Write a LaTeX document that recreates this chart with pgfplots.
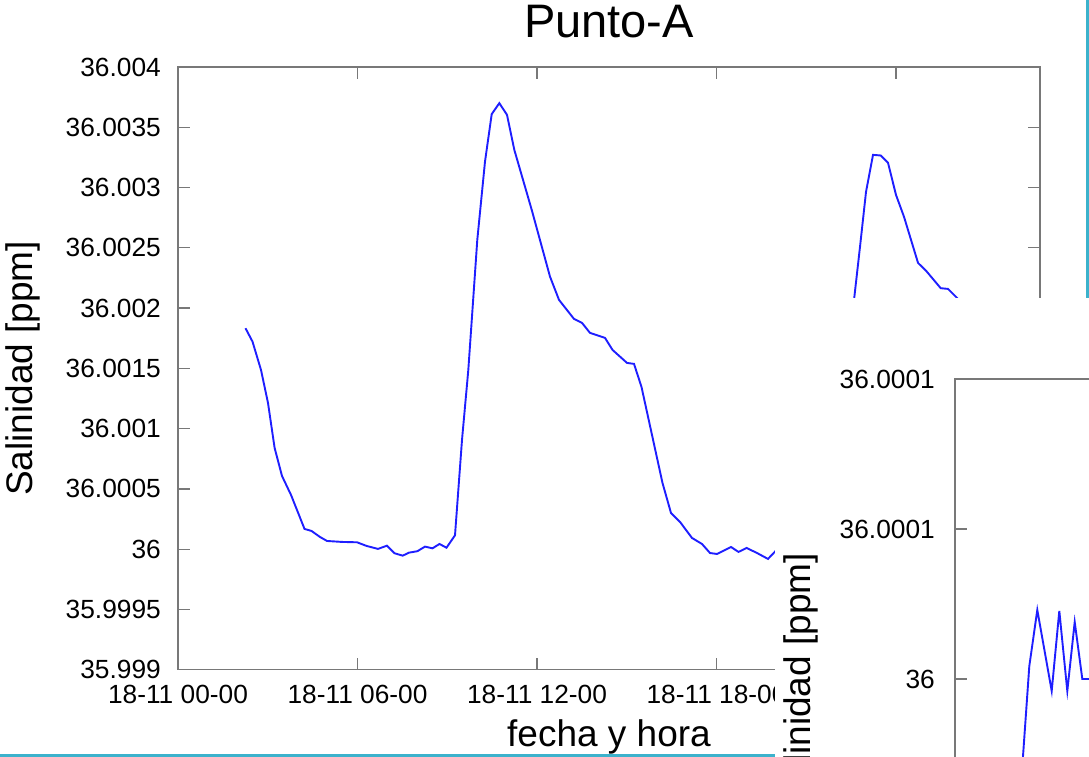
\documentclass[border=0pt]{standalone}
\usepackage{fontspec}
\setmainfont{Liberation Sans}
\usepackage{pgfplots}
\pgfplotsset{compat=1.18}
\usepackage{pgfplotstable}
\definecolor{curve}{RGB}{30,30,255}
\definecolor{frame}{RGB}{120,120,120}
\definecolor{winedge}{RGB}{60,178,204}

% Punto-A: h = hours since 18-11 00-00, v = (salinity - 36) in units of 0.001 ppm
\pgfplotstableread{
h v
2.256 1.833
2.490 1.722
2.774 1.487
3.008 1.213
3.229 0.840
3.476 0.607
3.777 0.450
4.228 0.168
4.462 0.151
4.746 0.101
4.980 0.068
5.481 0.060
5.983 0.057
6.300 0.027
6.684 0.002
6.985 0.029
7.239 -0.034
7.510 -0.054
7.721 -0.029
8.001 -0.017
8.255 0.021
8.506 0.007
8.740 0.043
8.974 0.012
9.258 0.115
9.492 0.906
9.703 1.487
10.003 2.566
10.261 3.216
10.485 3.609
10.739 3.700
10.996 3.603
11.240 3.313
11.822 2.815
12.433 2.261
12.734 2.068
13.235 1.910
13.503 1.877
13.770 1.794
14.271 1.753
14.522 1.653
15.007 1.545
15.241 1.537
15.491 1.346
16.193 0.549
16.477 0.300
16.778 0.226
17.179 0.093
17.513 0.043
17.781 -0.032
18.015 -0.040
18.483 0.018
18.733 -0.023
19.004 0.010
19.352 -0.032
19.719 -0.081
19.973 -0.015
20.29 0.03
20.79 0.08
21.29 0.16
21.79 0.41
22.29 1.07
22.594 2.068
22.794 2.508
22.995 2.964
23.229 3.271
23.486 3.266
23.730 3.205
23.997 2.939
24.265 2.757
24.733 2.375
25.024 2.303
25.491 2.165
25.735 2.159
26.070 2.076
26.64 1.82
27.31 1.07
27.81 0.57
28.48 0.24
}\puntoA

% second window: x = position index, v = (salinity - 36) in units of 0.00001 ppm
\pgfplotstableread{
x v
55 -8.0
61.5 -5.67
68.3 -2.43
74.3 0.43
82.3 2.30
96.7 -0.40
104.3 2.27
112.3 -0.40
119.7 1.90
127.3 0.0
134 0.0
160 0.0
}\puntoB

\begin{document}
\begin{tikzpicture}
\begin{axis}[
  at={(178bp,87.3bp)}, anchor=south west,
  width=862bp, height=602.7bp, scale only axis,
  xmin=0, xmax=28.81,
  ymin=-1, ymax=4,
  axis line style={frame, line width=1.3bp},
  tick style={frame, line width=1.3bp},
  major tick length=12bp,
  tick align=inside,
  xtick={0,6,12,18,24},
  xticklabels={18-11 00-00,18-11 06-00,18-11 12-00,18-11 18-00,{}},
  ytick={-1,-0.5,0,0.5,1,1.5,2,2.5,3,3.5,4},
  yticklabels={35.999,35.9995,36,36.0005,36.001,36.0015,36.002,36.0025,36.003,36.0035,36.004},
  tick label style={font=\fontsize{26.3bp}{31bp}\selectfont},
  xticklabel style={anchor=base, yshift=-34bp, inner sep=0pt},
  yticklabel style={anchor=east, inner sep=0pt, xshift=-17bp},
  title={Punto-A},
  title style={at={(axis description cs:0.5,1.039)}, anchor=base, inner sep=0pt, font=\fontsize{47bp}{56bp}\selectfont},
  xlabel={fecha y hora},
  xlabel style={at={(axis description cs:0.5,-0.1266)}, anchor=base, inner sep=0pt, font=\fontsize{37bp}{44bp}\selectfont},
  ylabel={Salinidad [ppm]},
  ylabel style={at={(axis description cs:-0.1688,0.5)}, anchor=base, inner sep=0pt, font=\fontsize{37bp}{44bp}\selectfont},
]
\addplot[curve, line width=1.9bp, mark=none] table[x=h, y=v] {\puntoA};
\end{axis}
\draw[winedge, line width=3bp] (0bp,1.5bp) -- (775bp,1.5bp);
\draw[winedge, line width=2.5bp] (1087.5bp,459bp) -- (1087.5bp,757bp);
\fill[white] (775bp,-20bp) rectangle (1120bp,459bp);
\begin{axis}[
  at={(955bp,378bp)}, anchor=north west,
  width=300bp, height=500bp, scale only axis,
  xmin=0, xmax=300,
  ymin=-6.667, ymax=10,
  axis line style={frame, line width=1.3bp},
  tick style={frame, line width=1.3bp},
  major tick length=12bp,
  tick align=inside,
  xtick=\empty,
  ytick={0,5,10},
  yticklabels={36,36.0001,36.0001},
  tick label style={font=\fontsize{26.3bp}{31bp}\selectfont},
  yticklabel style={anchor=east, inner sep=0pt, xshift=-20bp},
]
\addplot[curve, line width=1.9bp, mark=none] table[x=x, y=v] {\puntoB};
\end{axis}
\node[rotate=90, anchor=base east, inner sep=0pt, font=\fontsize{37bp}{44bp}\selectfont] at (810bp,204bp) {Salinidad [ppm]};
\pgfresetboundingbox
\path[use as bounding box] (0bp,0bp) rectangle (1089bp,757bp);
\end{tikzpicture}
\end{document}
